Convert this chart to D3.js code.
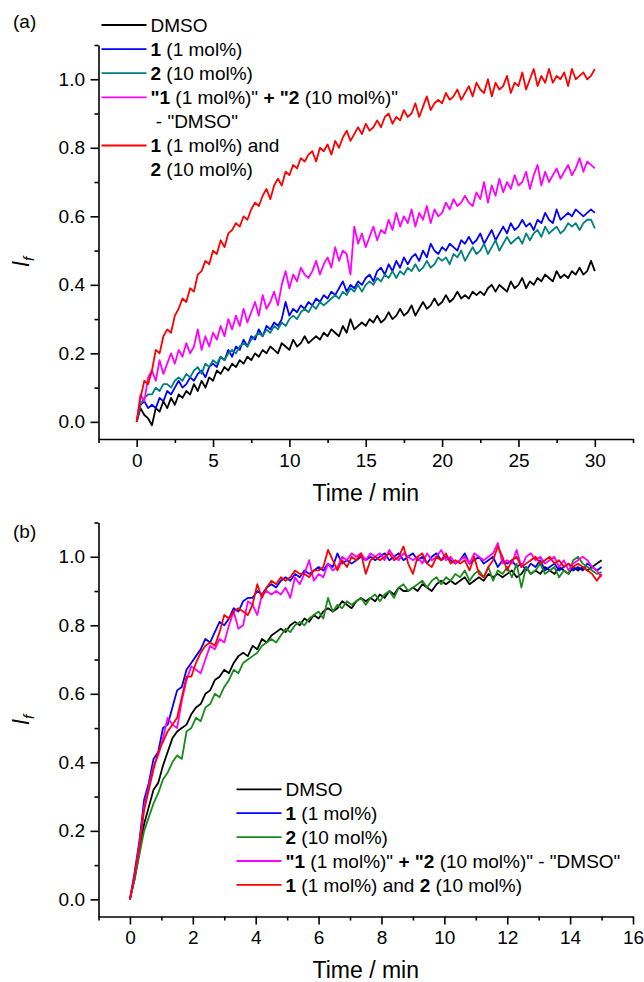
<!DOCTYPE html>
<html>
<head>
<meta charset="utf-8">
<script src="https://cdn.jsdelivr.net/npm/d3@7"></script>
<style>
  body { margin: 0; background: #fff; }
  svg { display: block; }
  text { font-family: "Liberation Sans", Arial, sans-serif; fill: #000; }
</style>
</head>
<body>
<svg id="chart" width="644" height="982"></svg>
<script>
// sampling times (min)
const timeA = d3.range(121).map(i => i * 0.25);
const timeB = d3.range(101).map(i => i * 0.15);

// panel (a) – I_f values, one row = 2.5 min
const dmsoA = [
  0, 0.04, 0.02, 0.01, -0.01, 0.04, 0.03, 0.06, 0.04, 0.07,
  0.05, 0.08, 0.07, 0.09, 0.08, 0.11, 0.09, 0.12, 0.10, 0.13,
  0.12, 0.15, 0.14, 0.16, 0.15, 0.17, 0.16, 0.18, 0.17, 0.19,
  0.18, 0.20, 0.19, 0.21, 0.20, 0.22, 0.21, 0.20, 0.23, 0.22,
  0.21, 0.24, 0.22, 0.23, 0.25, 0.23, 0.24, 0.25, 0.24, 0.26,
  0.25, 0.27, 0.26, 0.25, 0.28, 0.26, 0.30, 0.27, 0.28, 0.29,
  0.28, 0.30, 0.29, 0.31, 0.29, 0.30, 0.32, 0.30, 0.31, 0.33,
  0.31, 0.32, 0.34, 0.31, 0.33, 0.35, 0.33, 0.34, 0.36, 0.34,
  0.35, 0.37, 0.35, 0.36, 0.38, 0.36, 0.37, 0.36, 0.38, 0.37,
  0.38, 0.37, 0.39, 0.40, 0.38, 0.40, 0.39, 0.38, 0.41, 0.39,
  0.40, 0.42, 0.39, 0.41, 0.40, 0.42, 0.41, 0.43, 0.42, 0.41,
  0.44, 0.42, 0.43, 0.42, 0.44, 0.43, 0.45, 0.43, 0.44, 0.47,
  0.44
];
const cat1A = [
  0, 0.05, 0.06, 0.04, 0.05, 0.04, 0.07, 0.06, 0.09, 0.08,
  0.10, 0.12, 0.10, 0.11, 0.13, 0.12, 0.14, 0.15, 0.13, 0.16,
  0.17, 0.16, 0.19, 0.18, 0.21, 0.19, 0.22, 0.21, 0.24, 0.22,
  0.25, 0.24, 0.27, 0.25, 0.28, 0.27, 0.29, 0.28, 0.30, 0.35,
  0.31, 0.33, 0.32, 0.34, 0.33, 0.35, 0.34, 0.36, 0.35, 0.37,
  0.36, 0.38, 0.37, 0.39, 0.41, 0.38, 0.40, 0.39, 0.41, 0.40,
  0.42, 0.43, 0.41, 0.44, 0.45, 0.43, 0.46, 0.44, 0.47, 0.45,
  0.48, 0.46, 0.48, 0.49, 0.47, 0.50, 0.48, 0.52, 0.50, 0.49,
  0.51, 0.50, 0.52, 0.51, 0.50, 0.53, 0.52, 0.54, 0.52, 0.53,
  0.55, 0.52, 0.54, 0.56, 0.53, 0.55, 0.57, 0.55, 0.58, 0.56,
  0.57, 0.59, 0.57, 0.58, 0.56, 0.59, 0.58, 0.61, 0.59, 0.58,
  0.62, 0.59, 0.60, 0.61, 0.60, 0.62, 0.61, 0.60, 0.61, 0.62,
  0.61
];
const cat2A = [
  0, 0.05, 0.07, 0.08, 0.08, 0.10, 0.09, 0.11, 0.11, 0.10,
  0.12, 0.13, 0.12, 0.14, 0.13, 0.15, 0.16, 0.14, 0.17, 0.16,
  0.18, 0.17, 0.19, 0.18, 0.20, 0.21, 0.20, 0.22, 0.23, 0.22,
  0.24, 0.25, 0.26, 0.25, 0.27, 0.26, 0.28, 0.27, 0.29, 0.28,
  0.30, 0.31, 0.30, 0.32, 0.33, 0.32, 0.34, 0.33, 0.35, 0.34,
  0.35, 0.36, 0.37, 0.36, 0.38, 0.37, 0.39, 0.38, 0.40, 0.38,
  0.40, 0.41, 0.40, 0.42, 0.41, 0.43, 0.42, 0.44, 0.42, 0.44,
  0.43, 0.45, 0.44, 0.46, 0.44, 0.45, 0.47, 0.45, 0.46, 0.48,
  0.47, 0.48, 0.46, 0.49, 0.48, 0.50, 0.47, 0.49, 0.51, 0.49,
  0.50, 0.52, 0.49, 0.51, 0.53, 0.50, 0.52, 0.54, 0.52, 0.53,
  0.54, 0.52, 0.55, 0.53, 0.55, 0.56, 0.54, 0.57, 0.55, 0.56,
  0.57, 0.55, 0.56, 0.58, 0.57, 0.58, 0.56, 0.58, 0.59, 0.59,
  0.565
];
const sumA = [
  0, 0.08, 0.06, 0.13, 0.15, 0.12, 0.18, 0.14, 0.17, 0.20,
  0.17, 0.21, 0.19, 0.23, 0.20, 0.22, 0.27, 0.21, 0.25, 0.22,
  0.26, 0.24, 0.28, 0.25, 0.30, 0.27, 0.31, 0.28, 0.33, 0.29,
  0.32, 0.35, 0.31, 0.37, 0.33, 0.35, 0.38, 0.34, 0.40, 0.44,
  0.39, 0.43, 0.41, 0.45, 0.43, 0.42, 0.44, 0.47, 0.43, 0.46,
  0.48, 0.45, 0.51, 0.47, 0.50, 0.49, 0.43, 0.57, 0.52, 0.55,
  0.51, 0.54, 0.57, 0.53, 0.56, 0.55, 0.59, 0.56, 0.61, 0.57,
  0.60, 0.58, 0.62, 0.57, 0.61, 0.59, 0.63, 0.58, 0.62, 0.60,
  0.61, 0.64, 0.62, 0.65, 0.63, 0.64, 0.66, 0.64, 0.63, 0.67,
  0.65, 0.70, 0.64, 0.69, 0.66, 0.71, 0.67, 0.70, 0.68, 0.72,
  0.69, 0.70, 0.73, 0.68, 0.72, 0.75, 0.69, 0.73, 0.70, 0.72,
  0.74, 0.71, 0.73, 0.75, 0.72, 0.74, 0.77, 0.73, 0.76, 0.75,
  0.74
];
const bothA = [
  0, 0.07, 0.12, 0.11, 0.15, 0.21, 0.20, 0.25, 0.27, 0.26,
  0.31, 0.33, 0.36, 0.35, 0.39, 0.38, 0.43, 0.44, 0.47, 0.46,
  0.50, 0.49, 0.53, 0.51, 0.55, 0.56, 0.58, 0.57, 0.60, 0.59,
  0.62, 0.64, 0.63, 0.66, 0.68, 0.65, 0.69, 0.71, 0.69, 0.73,
  0.72, 0.75, 0.74, 0.77, 0.76, 0.78, 0.79, 0.76, 0.80, 0.79,
  0.81, 0.78, 0.82, 0.80, 0.83, 0.85, 0.82, 0.84, 0.86, 0.84,
  0.87, 0.85, 0.86, 0.88, 0.86, 0.89, 0.90, 0.87, 0.89, 0.88,
  0.91, 0.89, 0.90, 0.93, 0.89, 0.92, 0.95, 0.91, 0.93, 0.94,
  0.93, 0.96, 0.94, 0.95, 0.97, 0.94, 0.96, 0.98, 0.95, 0.99,
  0.97, 0.96, 1.00, 0.95, 0.99, 0.97, 0.98, 1.01, 0.96, 0.99,
  0.98, 1.02, 0.97, 1.00, 1.03, 0.98, 1.01, 0.99, 1.03, 0.99,
  1.01, 1.00, 1.02, 0.98, 1.03, 1.00, 1.01, 1.02, 1.00, 1.01,
  1.03
];

// panel (b) – I_f values, one row = 1.5 min
const dmsoB = [
  0, 0.06, 0.14, 0.22, 0.27, 0.32, 0.34, 0.39, 0.43, 0.47,
  0.49, 0.50, 0.51, 0.54, 0.56, 0.57, 0.60, 0.61, 0.64, 0.65,
  0.67, 0.66, 0.69, 0.71, 0.72, 0.71, 0.74, 0.73, 0.76, 0.75,
  0.77, 0.78, 0.79, 0.78, 0.80, 0.81, 0.80, 0.82, 0.81, 0.83,
  0.82, 0.84, 0.85, 0.84, 0.85, 0.87, 0.86, 0.85, 0.87, 0.88,
  0.87, 0.88, 0.87, 0.89, 0.88, 0.90, 0.89, 0.91, 0.90, 0.90,
  0.91, 0.90, 0.92, 0.91, 0.90, 0.92, 0.93, 0.92, 0.93, 0.92,
  0.93, 0.94, 0.92, 0.93, 0.94, 0.93, 0.95, 0.94, 0.95, 0.94,
  0.95, 0.96, 0.94, 0.95, 0.97, 0.95, 0.96, 0.95, 0.97, 0.96,
  0.95, 0.97, 0.96, 0.95, 0.97, 0.96, 0.97, 0.96, 0.97, 0.98,
  0.99
];
const cat1B = [
  0, 0.08, 0.17, 0.29, 0.34, 0.41, 0.43, 0.50, 0.51, 0.56,
  0.61, 0.62, 0.67, 0.69, 0.71, 0.73, 0.76, 0.75, 0.78, 0.81,
  0.80, 0.82, 0.85, 0.84, 0.87, 0.88, 0.88, 0.90, 0.89, 0.91,
  0.92, 0.91, 0.93, 0.94, 0.93, 0.95, 0.94, 0.96, 0.95, 0.96,
  0.97, 0.96, 0.98, 0.97, 1.01, 0.98, 0.99, 0.98, 0.99, 1.00,
  0.99, 1.00, 0.99, 1.00, 1.01, 0.99, 1.00, 1.01, 0.99, 1.00,
  1.01, 0.99, 1.00, 0.98, 1.00, 1.01, 0.99, 1.00, 0.99, 0.98,
  0.99, 1.01, 0.98, 0.99, 1.00, 0.98, 0.99, 1.00, 0.97, 0.99,
  0.98, 0.99, 0.97, 0.98, 0.96, 0.98, 0.97, 0.99, 0.96, 0.97,
  0.98, 0.96, 0.97, 0.98, 0.96, 0.97, 0.96, 0.98, 0.97, 0.96,
  0.97
];
const cat2B = [
  0, 0.06, 0.13, 0.20, 0.24, 0.28, 0.31, 0.35, 0.37, 0.40,
  0.42, 0.41, 0.49, 0.50, 0.53, 0.52, 0.56, 0.57, 0.60, 0.59,
  0.62, 0.64, 0.67, 0.66, 0.69, 0.70, 0.71, 0.72, 0.74, 0.75,
  0.76, 0.75, 0.77, 0.79, 0.78, 0.80, 0.81, 0.80, 0.82, 0.83,
  0.84, 0.82, 0.88, 0.84, 0.86, 0.85, 0.87, 0.86, 0.87, 0.88,
  0.86, 0.88, 0.89, 0.87, 0.89, 0.90, 0.88, 0.91, 0.92, 0.90,
  0.91, 0.92, 0.93, 0.91, 0.93, 0.94, 0.92, 0.94, 0.93, 0.95,
  0.94, 0.96, 0.93, 0.95, 0.96, 0.94, 0.97, 0.93, 0.96, 0.95,
  0.97, 0.94, 0.98, 0.91, 0.97, 0.95, 0.96, 0.98, 0.95, 0.96,
  0.97, 0.94, 0.96, 0.95, 0.99, 1.00, 0.98, 0.97, 0.96, 0.95,
  0.955
];
const sumB = [
  0, 0.07, 0.16, 0.27, 0.33, 0.39, 0.42, 0.47, 0.53, 0.51,
  0.50, 0.58, 0.64, 0.68, 0.67, 0.66, 0.70, 0.74, 0.73, 0.76,
  0.75, 0.80, 0.84, 0.79, 0.80, 0.87, 0.86, 0.83, 0.89, 0.90,
  0.89, 0.90, 0.89, 0.91, 0.88, 0.94, 0.92, 0.95, 0.99, 0.93,
  0.95, 0.94, 0.98, 0.96, 0.97, 1.00, 0.99, 1.01, 1.00, 1.01,
  0.99, 1.01, 1.00, 1.01, 0.99, 1.02, 1.00, 0.99, 1.01, 1.00,
  0.99, 1.00, 0.98, 1.01, 0.99, 1.00, 1.02, 0.99, 1.00, 0.98,
  0.99, 1.00, 0.98, 1.01, 1.00, 0.99, 1.00, 1.01, 1.04, 0.98,
  0.99, 0.98, 1.02, 0.97, 1.00, 1.01, 0.99, 1.00, 0.98, 0.99,
  1.00, 0.97, 0.99, 0.96, 0.98, 0.99, 1.00, 0.99, 0.97, 0.96,
  0.94
];
const bothB = [
  0, 0.07, 0.15, 0.26, 0.32, 0.38, 0.43, 0.46, 0.49, 0.51,
  0.53, 0.59, 0.65, 0.65, 0.69, 0.72, 0.74, 0.75, 0.74, 0.78,
  0.83, 0.82, 0.84, 0.85, 0.84, 0.83, 0.86, 0.92, 0.88, 0.91,
  0.93, 0.92, 0.94, 0.93, 0.94, 0.96, 0.95, 0.95, 0.94, 0.96,
  0.96, 0.97, 1.02, 0.99, 0.96, 0.99, 0.97, 1.00, 0.99, 1.01,
  0.95, 0.99, 1.00, 0.99, 1.00, 1.01, 0.99, 1.00, 1.03, 0.98,
  0.95, 1.00, 1.01, 0.98, 0.97, 1.00, 0.99, 1.01, 0.98, 0.99,
  0.98, 0.99, 0.96, 1.00, 0.95, 0.94, 0.97, 0.99, 1.03, 1.00,
  0.96, 0.99, 1.00, 0.97, 0.98, 0.99, 1.00, 0.98, 0.99, 1.00,
  0.98, 0.99, 0.97, 0.98, 0.97, 0.98, 0.97, 0.96, 0.95, 0.93,
  0.95
];

// legend labels: [text, bold] pieces, one array per printed line
const legendA = [
  [[['DMSO', false]]],
  [[['1', true], [' (1 mol%)', false]]],
  [[['2', true], [' (10 mol%)', false]]],
  [[['"1', true], [' (1 mol%)"', false], [' + "2', true], [' (10 mol%)"', false]],
   [[' - "DMSO"', false]]],
  [[['1', true], [' (1 mol%) and', false]],
   [['2', true], [' (10 mol%)', false]]]
];
const legendB = [
  [[['DMSO', false]]],
  [[['1', true], [' (1 mol%)', false]]],
  [[['2', true], [' (10 mol%)', false]]],
  [[['"1', true], [' (1 mol%)"', false], [' + "2', true], [' (10 mol%)" - "DMSO"', false]]],
  [[['1', true], [' (1 mol%) and ', false], ['2', true], [' (10 mol%)', false]]]
];

const colorsA = ['#000000', '#0000ff', '#008080', '#ff00ff', '#ff0000'];
const colorsB = ['#000000', '#0000ff', '#1a8a1a', '#ff00ff', '#ff0000'];

const svg = d3.select('#chart');

function drawPanel(cfg) {
  const { x, y, time, series, colors } = cfg;
  const left = x.range()[0], bottom = y.range()[0];

  // minor ticks first
  svg.append('g')
    .attr('transform', `translate(${left},0)`)
    .call(d3.axisLeft(y).tickValues([0.1, 0.3, 0.5, 0.7, 0.9, 1.1]).tickSize(4).tickFormat(''))
    .call(g => g.select('.domain').remove());
  svg.append('g')
    .attr('transform', `translate(0,${bottom})`)
    .call(d3.axisBottom(x).tickValues(cfg.xMinor).tickSize(4).tickFormat(''))
    .call(g => g.select('.domain').remove());

  // major axes
  const gy = svg.append('g')
    .attr('transform', `translate(${left},0)`)
    .call(d3.axisLeft(y).tickValues([0, 0.2, 0.4, 0.6, 0.8, 1.0])
      .tickFormat(d3.format('.1f')).tickSize(8).tickSizeOuter(0).tickPadding(5.5));
  const gx = svg.append('g')
    .attr('transform', `translate(0,${bottom})`)
    .call(d3.axisBottom(x).tickValues(cfg.xMajor)
      .tickFormat(d3.format('d')).tickSize(8).tickSizeOuter(0).tickPadding(6.5));
  [gy, gx].forEach(g => {
    g.attr('font-size', 19).attr('font-family', '"Liberation Sans", Arial, sans-serif');
    g.selectAll('text').attr('fill', '#000');
  });
  svg.selectAll('.tick line, .domain').attr('stroke', '#000').attr('stroke-width', 1.6);

  // data lines
  series.forEach((vals, k) => {
    svg.append('path')
      .datum(vals)
      .attr('fill', 'none')
      .attr('stroke', colors[k])
      .attr('stroke-width', 1.8)
      .attr('stroke-linejoin', 'round')
      .attr('d', d3.line().x((d, i) => x(time[i])).y(d => y(d)));
  });

  // axis titles
  svg.append('text')
    .attr('x', (x.range()[0] + x.range()[1]) / 2)
    .attr('y', bottom + 61.5)
    .attr('text-anchor', 'middle')
    .attr('font-size', 23)
    .text('Time / min');
  const yt = svg.append('text')
    .attr('transform', `translate(29,${cfg.yTitleY}) rotate(-90)`)
    .attr('text-anchor', 'middle')
    .attr('font-style', 'italic');
  yt.append('tspan').attr('font-size', 23).text('I');
  yt.append('tspan').attr('font-size', 15).attr('dy', 5).text('f');

  svg.append('text')
    .attr('x', 13).attr('y', cfg.tagY)
    .attr('font-size', 19)
    .text(cfg.tag);

  // legend
  let row = 0;
  cfg.legend.forEach((entry, k) => {
    const ly = cfg.legY + row * cfg.legStep;
    svg.append('line')
      .attr('x1', cfg.legX).attr('x2', cfg.legX + 45)
      .attr('y1', ly).attr('y2', ly)
      .attr('stroke', colors[k]).attr('stroke-width', 1.8);
    entry.forEach((pieces, j) => {
      const t = svg.append('text')
        .attr('x', cfg.legX + 49)
        .attr('y', cfg.legY + (row + j) * cfg.legStep + 6.8)
        .attr('font-size', 19)
        .attr('xml:space', 'preserve')
        .style('white-space', 'pre');
      pieces.forEach(([s, b]) => {
        t.append('tspan').attr('font-weight', b ? 'bold' : 'normal').text(s);
      });
    });
    row += entry.length;
  });
}

drawPanel({
  x: d3.scaleLinear([-2.5, 32.5], [98.5, 633]),
  y: d3.scaleLinear([-0.05, 1.1], [439, 45]),
  time: timeA,
  series: [dmsoA, cat1A, cat2A, sumA, bothA],
  colors: colorsA,
  xMajor: [0, 5, 10, 15, 20, 25, 30],
  xMinor: [-2.5, 2.5, 7.5, 12.5, 17.5, 22.5, 27.5, 32.5],
  legend: legendA,
  legX: 101.5, legY: 25, legStep: 24.1,
  tag: '(a)', tagY: 28, yTitleY: 262
});

drawPanel({
  x: d3.scaleLinear([-1, 16], [98.5, 633]),
  y: d3.scaleLinear([-0.05, 1.1], [916.5, 522.5]),
  time: timeB,
  series: [dmsoB, cat1B, cat2B, sumB, bothB],
  colors: colorsB,
  xMajor: [0, 2, 4, 6, 8, 10, 12, 14, 16],
  xMinor: [-1, 1, 3, 5, 7, 9, 11, 13, 15],
  legend: legendB,
  legX: 236.5, legY: 789.3, legStep: 23.9,
  tag: '(b)', tagY: 538, yTitleY: 720
});
</script>
</body>
</html>
